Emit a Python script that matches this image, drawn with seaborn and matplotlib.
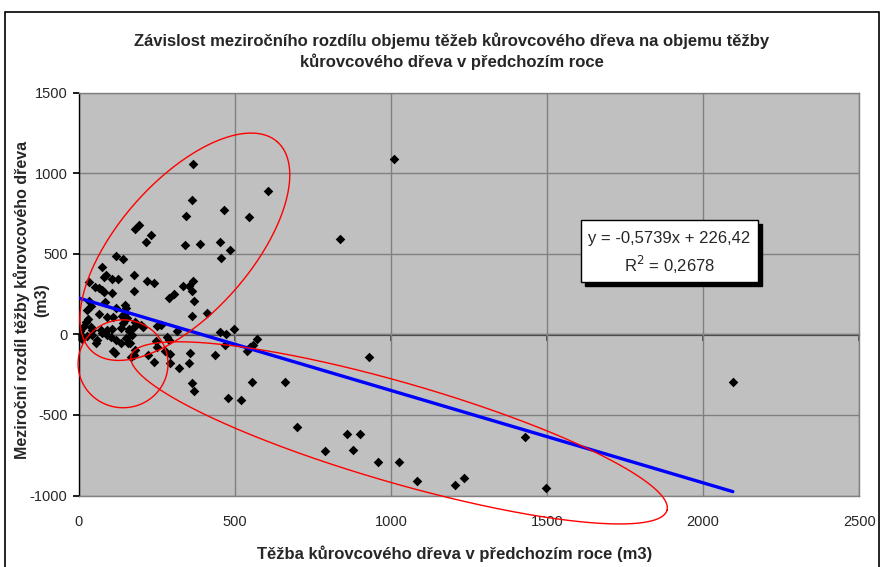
import numpy as np
import pandas as pd
import matplotlib
matplotlib.use("Agg")
import matplotlib.pyplot as plt
import seaborn as sns
from matplotlib.patches import Rectangle

# ---------------- data ----------------
x_prev = [367, 605, 363, 465, 344, 544, 339, 390, 451, 484, 456, 194, 181, 232, 215,
          120, 143, 76, 87, 80, 107, 125, 177, 34, 218, 241, 367, 333, 353, 363, 306,
          288, 368, 410, 363, 497, 453, 471,
          52, 66, 75, 82, 108, 178, 83, 120, 148, 153, 40, 33, 28, 65, 91, 110, 139,
          156, 145, 31, 24, 17, 141, 181, 200, 38, 44, 70, 92, 108, 135, 161, 177,
          207, 252, 262, 314,
          0, 3, 5, 2, 8, 1, 12,
          27, 43, 59, 75, 91, 102, 118, 134, 150, 158, 172, 161, 57, 115, 180, 177,
          221, 241, 247, 250, 111, 164, 167, 282, 290, 275, 292, 358, 438, 293, 353,
          321, 363, 368, 554, 479, 520, 572, 558, 549, 469, 540,
          1010, 837, 931, 661, 700, 790, 859, 900, 878, 957, 1026, 1082, 1204, 1235,
          1428, 1497, 2095]
y_diff = [1060, 891, 835, 773, 735, 729, 557, 565, 576, 522, 478, 683, 656, 619, 575,
          487, 467, 422, 368, 357, 342, 342, 370, 323, 333, 321, 335, 304, 304, 270, 251,
          226, 205, 135, 116, 35, 15, 6,
          298, 288, 278, 262, 259, 270, 201, 166, 183, 166, 176, 209, 153, 130, 110, 110, 112,
          100, 127, 96, 77, 54, 71, 79, 60, 46, 29, 29, 25, 33, 40, 34, 46,
          46, 50, 62, 23,
          0, 20, -15, 30, -5, 9, -25,
          -12, -2, -33, 9, -2, -16, -33, -53, -22, -53, -2, 19, -50, -112, -95, -126,
          -126, -172, -43, -75, -105, -50, -137, -16, -33, -105, -122, -118, -126, -180, -180,
          -209, -304, -352, -298, -395, -406, -25, -66, -76, -68, -103,
          1089, 593, -137, -296, -575, -725, -620, -620, -720, -792, -792, -908, -935, -891,
          -639, -953, -298]

trend_slope = -0.5739
trend_intercept = 226.42
trend_label = "y = -0,5739x + 226,42"
r2_label = "R$^2$ = 0,2678"

x_ticks = [0, 500, 1000, 1500, 2000, 2500]
y_ticks = [-1000, -500, 0, 500, 1000, 1500]

# highlight ellipses: centre, first and second conjugate semi-axis vectors (data units)
ell_centres = [(340, 545), (142, -182), (1026, -611)]
ell_axis_a = [(296, 652), (144, 0), (858, -481)]
ell_axis_b = [(159, -271), (0, 273), (-44, -298)]

title = ("Závislost meziročního rozdílu objemu těžeb kůrovcového dřeva na objemu těžby\n"
         "kůrovcového dřeva v předchozím roce")
xlabel = "Těžba kůrovcového dřeva v předchozím roce (m3)"
ylabel_line1 = "Meziroční rozdíl těžby kůrovcového dřeva"
ylabel_line2 = "(m3)"

# ---------------- plotting ----------------
sns.set_theme(style="white")
plt.rcParams["font.family"] = ["Liberation Sans", "DejaVu Sans"]
plt.rcParams["axes.unicode_minus"] = False

fig = plt.figure(figsize=(8.82, 5.67), dpi=100)
ax = fig.add_axes([78.7 / 882, 1 - 495.5 / 567, (859.3 - 78.7) / 882, (495.5 - 93) / 567])
ax.set_facecolor("#C0C0C0")

df = pd.DataFrame({"x": x_prev, "y": y_diff})
sns.scatterplot(data=df, x="x", y="y", marker="D", s=24, color="black",
                edgecolor="black", linewidth=0, ax=ax, zorder=4)

xl = np.array([0, max(x_prev)])
sns.lineplot(x=xl, y=trend_slope * xl + trend_intercept, color="#0000FF",
             linewidth=2.4, ax=ax, zorder=5)

t = np.linspace(0, 2 * np.pi, 400)
for c, a, b in zip(ell_centres, ell_axis_a, ell_axis_b):
    ex = c[0] + a[0] * np.cos(t) + b[0] * np.sin(t)
    ey = c[1] + a[1] * np.cos(t) + b[1] * np.sin(t)
    ax.plot(ex, ey, color="#FF0000", linewidth=1.0, clip_on=False, zorder=6)

ax.set_xlim(0, 2500)
ax.set_ylim(-1000, 1500)
ax.set_xticks(x_ticks)
ax.set_yticks(y_ticks)
ax.set_xticklabels([str(v) for v in x_ticks], fontsize=10.5)
ax.set_yticklabels([str(v) for v in y_ticks], fontsize=10.5)
ax.grid(True, color="#808080", linewidth=1.0)
ax.set_axisbelow(True)
ax.tick_params(axis="x", length=0, pad=14)
ax.tick_params(axis="y", length=4, direction="out", color="black", pad=4, left=True)
for side in ["top", "right", "bottom"]:
    ax.spines[side].set_color("#808080")
    ax.spines[side].set_linewidth(1.0)
ax.spines["left"].set_color("black")
ax.spines["left"].set_linewidth(1.0)

# x axis line crossing at y = 0
sec = ax.secondary_xaxis(0.4)
sec.set_xticks(x_ticks)
sec.tick_params(axis="x", length=4, direction="out", labelbottom=False, color="#404040")
sec.spines["bottom"].set_color("#404040")
sec.spines["bottom"].set_linewidth(1.6)

ax.set_xlabel(xlabel, fontsize=12, fontweight="bold")
ax.xaxis.set_label_coords(0.482, -0.125)
ax.set_ylabel("")

fig.text(21.5 / 882, 1 - 300 / 567, ylabel_line1, rotation=90, ha="center", va="center",
         fontsize=11.5, fontweight="bold")
fig.text(41.5 / 882, 1 - 300 / 567, ylabel_line2, rotation=90, ha="center", va="center",
         fontsize=11.5, fontweight="bold")

fig.text(0.512, 0.910, title, ha="center", va="center", fontsize=12,
         fontweight="bold", linespacing=1.35)

# trend label box with shadow
bx0, by0, bw, bh = 581 / 882, 1 - 282 / 567, (758 - 581) / 882, (282 - 220) / 567
fig.patches.append(Rectangle((bx0 + 4 / 882, by0 - 4 / 567), bw, bh, transform=fig.transFigure,
                             facecolor="black", edgecolor="black", zorder=8))
fig.patches.append(Rectangle((bx0, by0), bw, bh, transform=fig.transFigure,
                             facecolor="white", edgecolor="black", linewidth=1.0, zorder=9))
fig.text(bx0 + bw / 2, 1 - 238 / 567, trend_label, ha="center", va="center", fontsize=12, zorder=10)
fig.text(bx0 + bw / 2, 1 - 265 / 567, r2_label, ha="center", va="center", fontsize=12, zorder=10)

# outer chart frame
fig.patches.append(Rectangle((5 / 882, -0.05), (879 - 5) / 882, 1.05 - 12 / 567,
                             transform=fig.transFigure, facecolor="none",
                             edgecolor="black", linewidth=1.2, zorder=1))

fig.savefig("out.png", dpi=100)
